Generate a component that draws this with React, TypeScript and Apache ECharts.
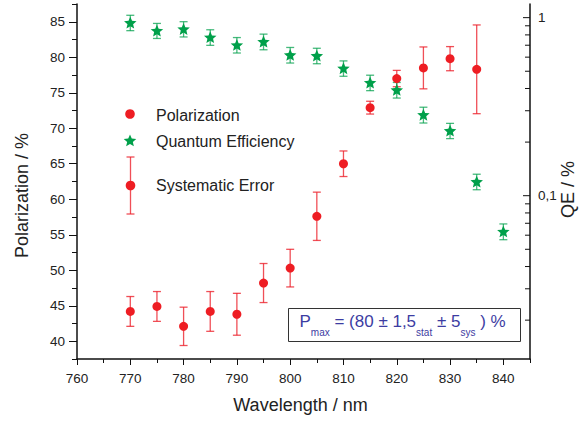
import React, { useEffect, useRef } from 'react';
import * as echarts from 'echarts';

// ---------- data ----------
const wavelengths = [770, 775, 780, 785, 790, 795, 800, 805, 810, 815, 820, 825, 830, 835];
const polarization = [44.2, 44.9, 42.1, 44.2, 43.8, 48.2, 50.3, 57.6, 65.0, 72.9, 77.0, 78.5, 79.8, 78.3];
const polarizationError = [2.1, 2.1, 2.7, 2.8, 2.95, 2.75, 2.65, 3.4, 1.8, 0.9, 1.15, 2.95, 1.7, 6.25];

const qeWavelengths = [770, 775, 780, 785, 790, 795, 800, 805, 810, 815, 820, 825, 830, 835, 840];
const qe = [0.938, 0.846, 0.864, 0.777, 0.703, 0.734, 0.618, 0.612, 0.52, 0.432, 0.393, 0.285, 0.232, 0.12, 0.063];
const qeError = [0.093, 0.082, 0.085, 0.078, 0.07, 0.074, 0.062, 0.061, 0.0515, 0.043, 0.0395, 0.029, 0.0228, 0.012, 0.0064];

const xMajorTicks = [760, 770, 780, 790, 800, 810, 820, 830, 840];
const xMinorTicks = [765, 775, 785, 795, 805, 815, 825, 835, 845];
const yMajorTicks = [40, 45, 50, 55, 60, 65, 70, 75, 80, 85];
const yMinorTicks = [37.5, 42.5, 47.5, 52.5, 57.5, 62.5, 67.5, 72.5, 77.5, 82.5, 87.5];
const qeMajorTicks = [0.1, 1];
const qeMajorLabels = ['0,1', '1'];
const qeMinorTicks = [0.02, 0.03, 0.04, 0.05, 0.06, 0.07, 0.08, 0.09, 0.2, 0.3, 0.4, 0.5, 0.6, 0.7, 0.8, 0.9];

const X_MIN = 760;
const X_MAX = 845;
const Y_MIN = 37.5;
const Y_MAX = 87.5;
const QE_MIN = 0.0121;
const QE_MAX = 1.193;

const FONT = '"Liberation Sans", Arial, Helvetica, sans-serif';
const RED = '#ee1d23';
const RED_BAR = 'rgba(236,30,40,0.78)';
const GREEN = '#00a04a';
const GREEN_BAR = 'rgba(0,160,75,0.72)';
const AXIS = '#111';
const TEXT = '#222';
const BLUE = '#3c3ca2';

function starPoints(cx: number, cy: number, R: number, ratio: number): number[][] {
  const pts: number[][] = [];
  for (let i = 0; i < 10; i++) {
    const a = -Math.PI / 2 + (i * Math.PI) / 5;
    const r = i % 2 ? R * ratio : R;
    pts.push([cx + r * Math.cos(a), cy + r * Math.sin(a)]);
  }
  return pts;
}
const STAR_SYMBOL =
  'path://M' + starPoints(10, 10, 10, 0.45).map((p) => p[0].toFixed(3) + ',' + p[1].toFixed(3)).join('L') + 'Z';

function errorBarSeries(name: string, xs: number[], ys: number[], errs: number[], color: string, yAxisIndex: number) {
  return {
    type: 'custom',
    name,
    xAxisIndex: 0,
    yAxisIndex,
    clip: false,
    silent: true,
    data: xs.map((x, i) => [x, ys[i] - errs[i], ys[i] + errs[i]]),
    encode: { x: 0, y: [1, 2] },
    renderItem: (params: any, api: any) => {
      const x = api.value(0);
      const a = api.coord([x, api.value(2)]);
      const b = api.coord([x, api.value(1)]);
      const w = 4;
      const st = { stroke: color, lineWidth: 1.3 };
      return {
        type: 'group',
        children: [
          { type: 'line', shape: { x1: a[0], y1: a[1], x2: b[0], y2: b[1] }, style: st },
          { type: 'line', shape: { x1: a[0] - w, y1: a[1], x2: a[0] + w, y2: a[1] }, style: st },
          { type: 'line', shape: { x1: b[0] - w, y1: b[1], x2: b[0] + w, y2: b[1] }, style: st },
        ],
      };
    },
  };
}

export default function App() {
  const ref = useRef<HTMLDivElement>(null);

  useEffect(() => {
    if (!ref.current) return;
    const chart = echarts.init(ref.current, null, { renderer: 'svg' });

    const logTickData = [
      ...qeMajorTicks.map((v, i) => [X_MAX, v, 1, i]),
      ...qeMinorTicks.map((v) => [X_MAX, v, 0, -1]),
    ];

    const legendStar = starPoints(130, 141, 6.6, 0.45);

    const option: any = {
      animation: false,
      backgroundColor: '#fff',
      textStyle: { fontFamily: FONT },
      grid: { left: 77, right: 46, top: 4, bottom: 63, containLabel: false },
      xAxis: [
        {
          type: 'value',
          min: X_MIN,
          max: X_MAX,
          position: 'bottom',
          name: 'Wavelength / nm',
          nameLocation: 'middle',
          nameGap: 37,
          nameTextStyle: { fontSize: 18, color: TEXT, fontFamily: FONT, padding: [0, 6, 0, 0] },
          axisLine: { show: true, onZero: false, lineStyle: { color: AXIS, width: 1.5 } },
          axisTick: { show: true, length: 6, customValues: xMajorTicks, lineStyle: { color: AXIS, width: 1 } },
          axisLabel: { show: true, customValues: xMajorTicks, fontSize: 13.5, color: TEXT, margin: 12, fontFamily: FONT },
          splitLine: { show: false },
        },
        {
          type: 'value',
          min: X_MIN,
          max: X_MAX,
          position: 'bottom',
          axisLine: { show: false, onZero: false },
          axisTick: { show: true, length: 4, customValues: xMinorTicks, lineStyle: { color: AXIS, width: 1 } },
          axisLabel: { show: false },
          splitLine: { show: false },
        },
      ],
      yAxis: [
        {
          type: 'value',
          min: Y_MIN,
          max: Y_MAX,
          position: 'left',
          name: 'Polarization / %',
          nameLocation: 'middle',
          nameGap: 46,
          nameTextStyle: { fontSize: 18, color: TEXT, fontFamily: FONT, padding: [0, 28, 0, 0] },
          axisLine: { show: true, onZero: false, lineStyle: { color: AXIS, width: 1.5 } },
          axisTick: { show: true, length: 8, customValues: yMajorTicks, lineStyle: { color: AXIS, width: 1 } },
          axisLabel: { show: true, customValues: yMajorTicks, fontSize: 13.5, color: TEXT, margin: 12, fontFamily: FONT },
          splitLine: { show: false },
        },
        {
          type: 'log',
          logBase: 10,
          min: QE_MIN,
          max: QE_MAX,
          position: 'right',
          name: 'QE / %',
          nameLocation: 'middle',
          nameGap: 29,
          nameTextStyle: { fontSize: 18, color: TEXT, fontFamily: FONT, padding: [0, 16, 0, 0] },
          axisLine: { show: true, onZero: false, lineStyle: { color: AXIS, width: 1.5 } },
          axisTick: { show: false },
          axisLabel: { show: false },
          splitLine: { show: false },
        },
        {
          type: 'value',
          min: Y_MIN,
          max: Y_MAX,
          position: 'left',
          axisLine: { show: false, onZero: false },
          axisTick: { show: true, length: 5, customValues: yMinorTicks, lineStyle: { color: AXIS, width: 1 } },
          axisLabel: { show: false },
          splitLine: { show: false },
        },
      ],
      series: [
        errorBarSeries('Systematic Error', wavelengths, polarization, polarizationError, RED_BAR, 0),
        errorBarSeries('QE Error', qeWavelengths, qe, qeError, GREEN_BAR, 1),
        {
          type: 'scatter',
          name: 'Polarization',
          xAxisIndex: 0,
          yAxisIndex: 0,
          symbol: 'circle',
          symbolSize: 9,
          itemStyle: { color: RED, opacity: 1 },
          data: wavelengths.map((w, i) => [w, polarization[i]]),
          silent: true,
        },
        {
          type: 'scatter',
          name: 'Quantum Efficiency',
          xAxisIndex: 0,
          yAxisIndex: 1,
          symbol: STAR_SYMBOL,
          symbolKeepAspect: true,
          symbolSize: 12.5,
          itemStyle: { color: GREEN, opacity: 1 },
          data: qeWavelengths.map((w, i) => [w, qe[i]]),
          silent: true,
        },
        {
          type: 'custom',
          name: 'QE ticks',
          xAxisIndex: 0,
          yAxisIndex: 1,
          clip: false,
          silent: true,
          z: 10,
          data: logTickData,
          encode: { x: 0, y: 1 },
          renderItem: (params: any, api: any) => {
            const p = api.coord([api.value(0), api.value(1)]);
            const major = api.value(2) === 1;
            const len = major ? 7 : 5;
            const children: any[] = [
              {
                type: 'line',
                shape: { x1: p[0] - len, y1: p[1], x2: p[0], y2: p[1] },
                style: { stroke: AXIS, lineWidth: 1 },
              },
            ];
            if (major) {
              children.push({
                type: 'text',
                x: p[0] + 8,
                y: p[1],
                style: {
                  text: qeMajorLabels[api.value(3)],
                  fontSize: 13.5,
                  fontFamily: FONT,
                  fill: TEXT,
                  align: 'left',
                  verticalAlign: 'middle',
                },
              });
            }
            return { type: 'group', children };
          },
        },
      ],
      graphic: [
        // legend
        { type: 'circle', shape: { cx: 130, cy: 114, r: 4.8 }, style: { fill: RED } },
        {
          type: 'text',
          x: 156,
          y: 115,
          style: { text: 'Polarization', fontSize: 16, fontFamily: FONT, fill: TEXT, verticalAlign: 'middle' },
        },
        { type: 'polygon', shape: { points: legendStar }, style: { fill: GREEN } },
        {
          type: 'text',
          x: 156,
          y: 141,
          style: { text: 'Quantum Efficiency', fontSize: 16, fontFamily: FONT, fill: TEXT, verticalAlign: 'middle' },
        },
        { type: 'line', shape: { x1: 130.5, y1: 157, x2: 130.5, y2: 214 }, style: { stroke: RED_BAR, lineWidth: 1.3 } },
        { type: 'line', shape: { x1: 126.5, y1: 157, x2: 134.5, y2: 157 }, style: { stroke: RED_BAR, lineWidth: 1.3 } },
        { type: 'line', shape: { x1: 126.5, y1: 214, x2: 134.5, y2: 214 }, style: { stroke: RED_BAR, lineWidth: 1.3 } },
        { type: 'circle', shape: { cx: 130.5, cy: 185.5, r: 4.8 }, style: { fill: RED } },
        {
          type: 'text',
          x: 156,
          y: 185,
          style: { text: 'Systematic Error', fontSize: 16, fontFamily: FONT, fill: TEXT, verticalAlign: 'middle' },
        },
        // annotation box
        {
          type: 'rect',
          shape: { x: 288.5, y: 308.5, width: 232, height: 33 },
          style: { fill: '#fff', stroke: '#333', lineWidth: 1 },
          z: 20,
        },
        {
          type: 'text',
          x: 299.5,
          y: 313.4,
          z: 21,
          style: {
            text: '{m|P}{s|max}{m| = (80 ± 1,5}{s|stat}{m| ± 5}{s|sys}{m| ) %}',
            verticalAlign: 'top',
            align: 'left',
            rich: {
              m: { fontSize: 17, lineHeight: 20, verticalAlign: 'top', fill: BLUE, fontFamily: FONT },
              s: { fontSize: 10, lineHeight: 10, verticalAlign: 'top', padding: [14, 0, 0, 0], fill: BLUE, fontFamily: FONT },
            },
          },
        },
      ],
    };

    chart.setOption(option);
    return () => chart.dispose();
  }, []);

  return (
    <div
      ref={ref}
      style={{ position: 'absolute', left: 0, top: 0, width: 585, height: 422, background: '#fff' }}
    />
  );
}
